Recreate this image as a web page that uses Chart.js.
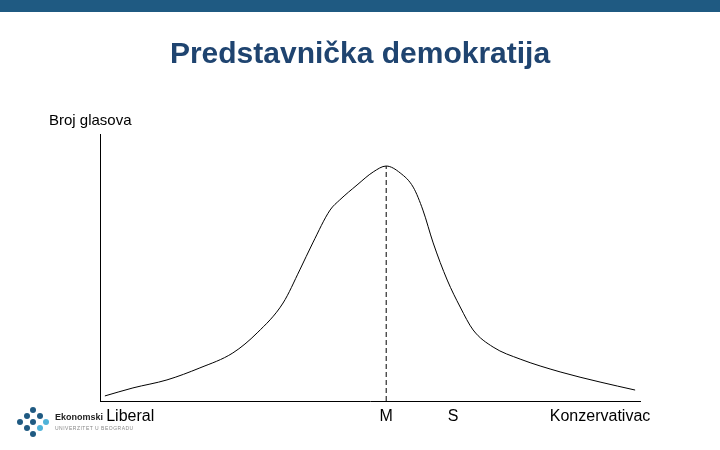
<!DOCTYPE html>
<html lang="hr">
<head>
  <meta charset="UTF-8">
  <title>Predstavnička demokratija</title>
  <script src="https://cdn.jsdelivr.net/npm/chart.js"></script>
  <style>
    html, body { margin: 0; padding: 0; background: #fff; }
    #wrap { position: relative; width: 720px; height: 450px; overflow: hidden; }
    #topBar { position: absolute; left: 0; top: 0; width: 720px; height: 12px; background: #1f5a82; }
    #title { position: absolute; left: 0; top: 35px; width: 720px; text-align: center;
             font: bold 30px/36px "Liberation Sans", Arial, sans-serif; color: #1f4470; }
    .dot { position: absolute; width: 6px; height: 6px; border-radius: 50%; }
    #logoText { position: absolute; left: 55px; top: 412px; font: bold 9px "Liberation Sans", Arial, sans-serif; color: #222; }
    #logoSub { position: absolute; left: 55px; top: 425px; font: 5px "Liberation Sans", Arial, sans-serif; color: #888; letter-spacing: 0.5px; }
  </style>
</head>
<body>
<div id="wrap">
  <canvas id="chart" width="720" height="450"></canvas>
  <div id="topBar"></div>
  <div id="title">Predstavnička demokratija</div>
  <div id="logo"></div>
  <div id="logoText">Ekonomski</div>
  <div id="logoSub">UNIVERZITET U BEOGRADU</div>
</div>

<script>
// podaci (x: položaj na ideološkoj osi 0-100, y: broj glasova 0-100)
const curveX = [0.9, 6.1, 12.4, 18.5, 24.6, 29.1, 33.9, 37.0, 39.4, 42.6, 44.4, 47.6, 50.6, 53.0,
                55.6, 58.0, 59.8, 61.7, 64.3, 66.7, 69.1, 72.8, 77.8, 85.2, 92.6, 99.1];
const curveY = [1.9, 4.9, 7.9, 12.4, 18.0, 25.5, 36.7, 49.1, 59.2, 71.5, 75.3, 80.9, 85.8, 88.0,
                85.4, 80.1, 71.5, 59.2, 45.3, 35.2, 26.6, 20.2, 15.7, 10.9, 7.1, 4.1];
const medianX = 53.0;
const medianY = 88.0;
const tickPositions = [5.6, 53.0, 65.4, 92.6];
const tickLabels = ["Liberal", "M", "S", "Konzervativac"];

// logo tockice
const logoDots = [[30,407,"#1f5a82"],[24,413,"#1f5a82"],[37,413,"#1f5a82"],[17,419,"#1f5a82"],
                  [30,419,"#1f5a82"],[43,419,"#4fb3d9"],[24,425,"#1f5a82"],[37,425,"#4fb3d9"],[30,431,"#1f5a82"]];
const logo = document.getElementById("logo");
logoDots.forEach(d => {
  const el = document.createElement("div");
  el.className = "dot";
  el.style.left = d[0] + "px";
  el.style.top = d[1] + "px";
  el.style.background = d[2];
  logo.appendChild(el);
});

const ctx = document.getElementById("chart").getContext("2d");
new Chart(ctx, {
  type: "line",
  data: {
    datasets: [
      {
        data: curveX.map((x, i) => ({ x: x, y: curveY[i] })),
        borderColor: "#000",
        borderWidth: 1,
        pointRadius: 0,
        cubicInterpolationMode: "monotone",
        fill: false
      },
      {
        data: [{ x: medianX, y: 0 }, { x: medianX, y: medianY }],
        borderColor: "#000",
        borderWidth: 1,
        borderDash: [5, 3],
        pointRadius: 0,
        fill: false
      }
    ]
  },
  options: {
    responsive: false,
    animation: false,
    layout: { padding: { left: 49, right: 80, top: 112, bottom: 0 } },
    plugins: {
      legend: { display: false },
      tooltip: { enabled: false },
      title: { display: false },
      subtitle: {
        display: true,
        text: "Broj glasova",
        align: "start",
        color: "#000",
        font: { family: "'Liberation Sans', Arial, sans-serif", size: 15 },
        padding: { top: 0, bottom: 4 }
      }
    },
    scales: {
      x: {
        type: "linear",
        min: 0,
        max: 100,
        grid: { display: false, drawTicks: false },
        border: { display: true, color: "#000", width: 1 },
        afterBuildTicks: axis => { axis.ticks = tickPositions.map(v => ({ value: v })); },
        afterFit: axis => { axis.height = 49; },
        ticks: {
          autoSkip: false,
          maxRotation: 0,
          padding: 6,
          color: "#000",
          font: { family: "'Liberation Sans', Arial, sans-serif", size: 16 },
          callback: (value) => tickLabels[tickPositions.indexOf(value)]
        }
      },
      y: {
        min: 0,
        max: 100,
        grid: { display: false, drawTicks: false },
        border: { display: true, color: "#000", width: 1 },
        ticks: { display: false },
        afterFit: axis => { axis.width = 51; }
      }
    }
  }
});
</script>
</body>
</html>
